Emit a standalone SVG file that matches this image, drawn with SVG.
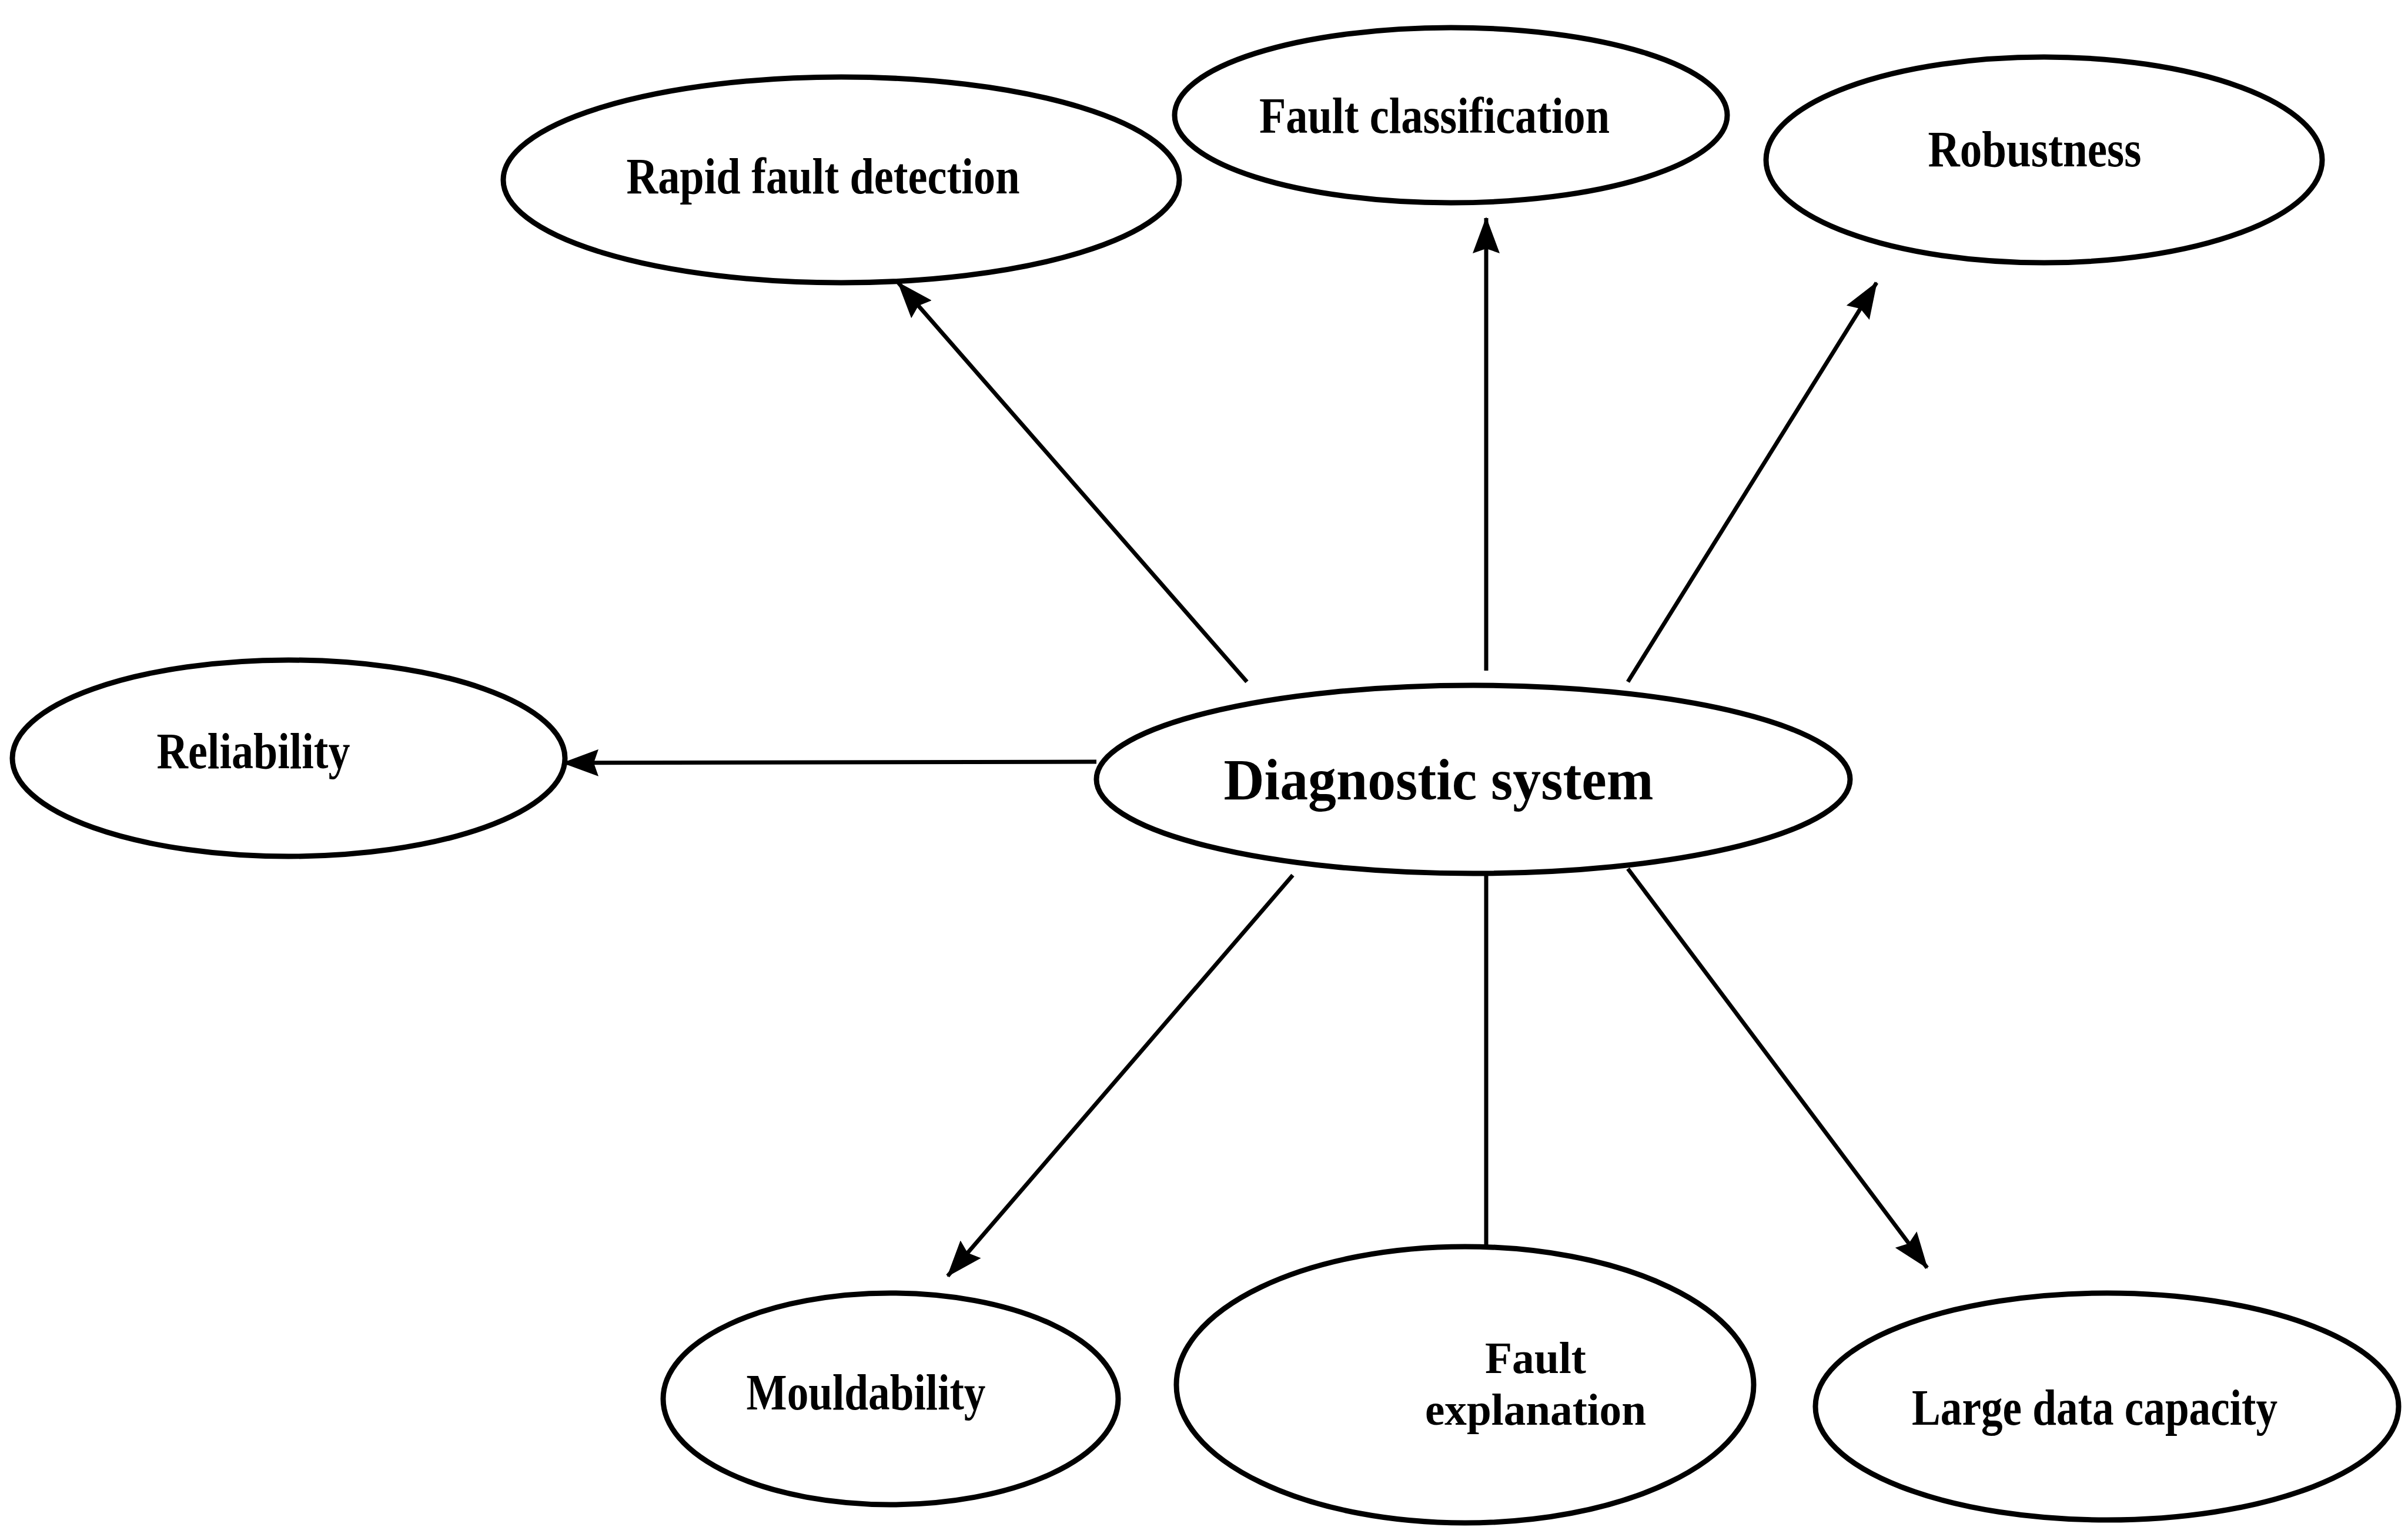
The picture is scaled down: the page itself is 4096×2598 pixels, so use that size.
<svg xmlns="http://www.w3.org/2000/svg" width="4096" height="2598" viewBox="0 0 4096 2598">
<style>
.node ellipse{fill:#fff;stroke:#000;stroke-width:9}
.lbl{font-family:"Liberation Serif","Times New Roman",serif;font-weight:bold;font-size:86px;fill:#000;text-anchor:middle}
.big{font-size:100px}
.two{font-size:76px}
.conn line{stroke:#000;stroke-width:7}
</style>
<defs>
<marker id="arr" markerUnits="userSpaceOnUse" markerWidth="62" markerHeight="46" refX="60" refY="23" orient="auto">
<path d="M0,0 L62,23 L0,46 L8,23 z" fill="#000"/>
</marker>
</defs>
<rect width="4096" height="2598" fill="#fff"/>
<g id="connectors" class="conn">
<line x1="2121" y1="1160" x2="1528" y2="481" marker-end="url(#arr)"/>
<line x1="2528" y1="1141" x2="2528" y2="371" marker-end="url(#arr)"/>
<line x1="2769" y1="1160" x2="3192" y2="481" marker-end="url(#arr)"/>
<line x1="1865" y1="1296" x2="958" y2="1298" marker-end="url(#arr)"/>
<line x1="2199" y1="1489" x2="1612" y2="2171" marker-end="url(#arr)"/>
<line x1="2528" y1="1484" x2="2528" y2="2122"/>
<line x1="2769" y1="1478" x2="3278" y2="2157" marker-end="url(#arr)"/>
</g>
<g id="rapid" class="node">
<ellipse cx="1431" cy="306" rx="575" ry="175"/>
<text class="lbl" x="1400" y="329" textLength="669" lengthAdjust="spacingAndGlyphs">Rapid fault detection</text>
</g>
<g id="classification" class="node">
<ellipse cx="2468" cy="196" rx="470" ry="149"/>
<text class="lbl" x="2440" y="226" textLength="596" lengthAdjust="spacingAndGlyphs">Fault classification</text>
</g>
<g id="robustness" class="node">
<ellipse cx="3477" cy="272" rx="473" ry="175"/>
<text class="lbl" x="3461" y="283" textLength="363" lengthAdjust="spacingAndGlyphs">Robustness</text>
</g>
<g id="reliability" class="node">
<ellipse cx="491" cy="1290" rx="470" ry="167"/>
<text class="lbl" x="431" y="1307" textLength="329" lengthAdjust="spacingAndGlyphs">Reliability</text>
</g>
<g id="diagnostic" class="node">
<ellipse cx="2506" cy="1326" rx="641" ry="160"/>
<text class="lbl big" x="2447" y="1360" textLength="731" lengthAdjust="spacingAndGlyphs">Diagnostic system</text>
</g>
<g id="mouldability" class="node">
<ellipse cx="1515" cy="2380" rx="387" ry="180"/>
<text class="lbl" x="1473" y="2398" textLength="407" lengthAdjust="spacingAndGlyphs">Mouldability</text>
</g>
<g id="explanation" class="node">
<ellipse cx="2492" cy="2356" rx="491" ry="235"/>
<text class="lbl two" x="2612" y="2336" textLength="172" lengthAdjust="spacingAndGlyphs">Fault</text>
<text class="lbl two" x="2612" y="2424" textLength="376" lengthAdjust="spacingAndGlyphs">explanation</text>
</g>
<g id="capacity" class="node">
<ellipse cx="3584" cy="2393" rx="496" ry="193"/>
<text class="lbl" x="3563" y="2424" textLength="622" lengthAdjust="spacingAndGlyphs">Large data capacity</text>
</g>
</svg>
